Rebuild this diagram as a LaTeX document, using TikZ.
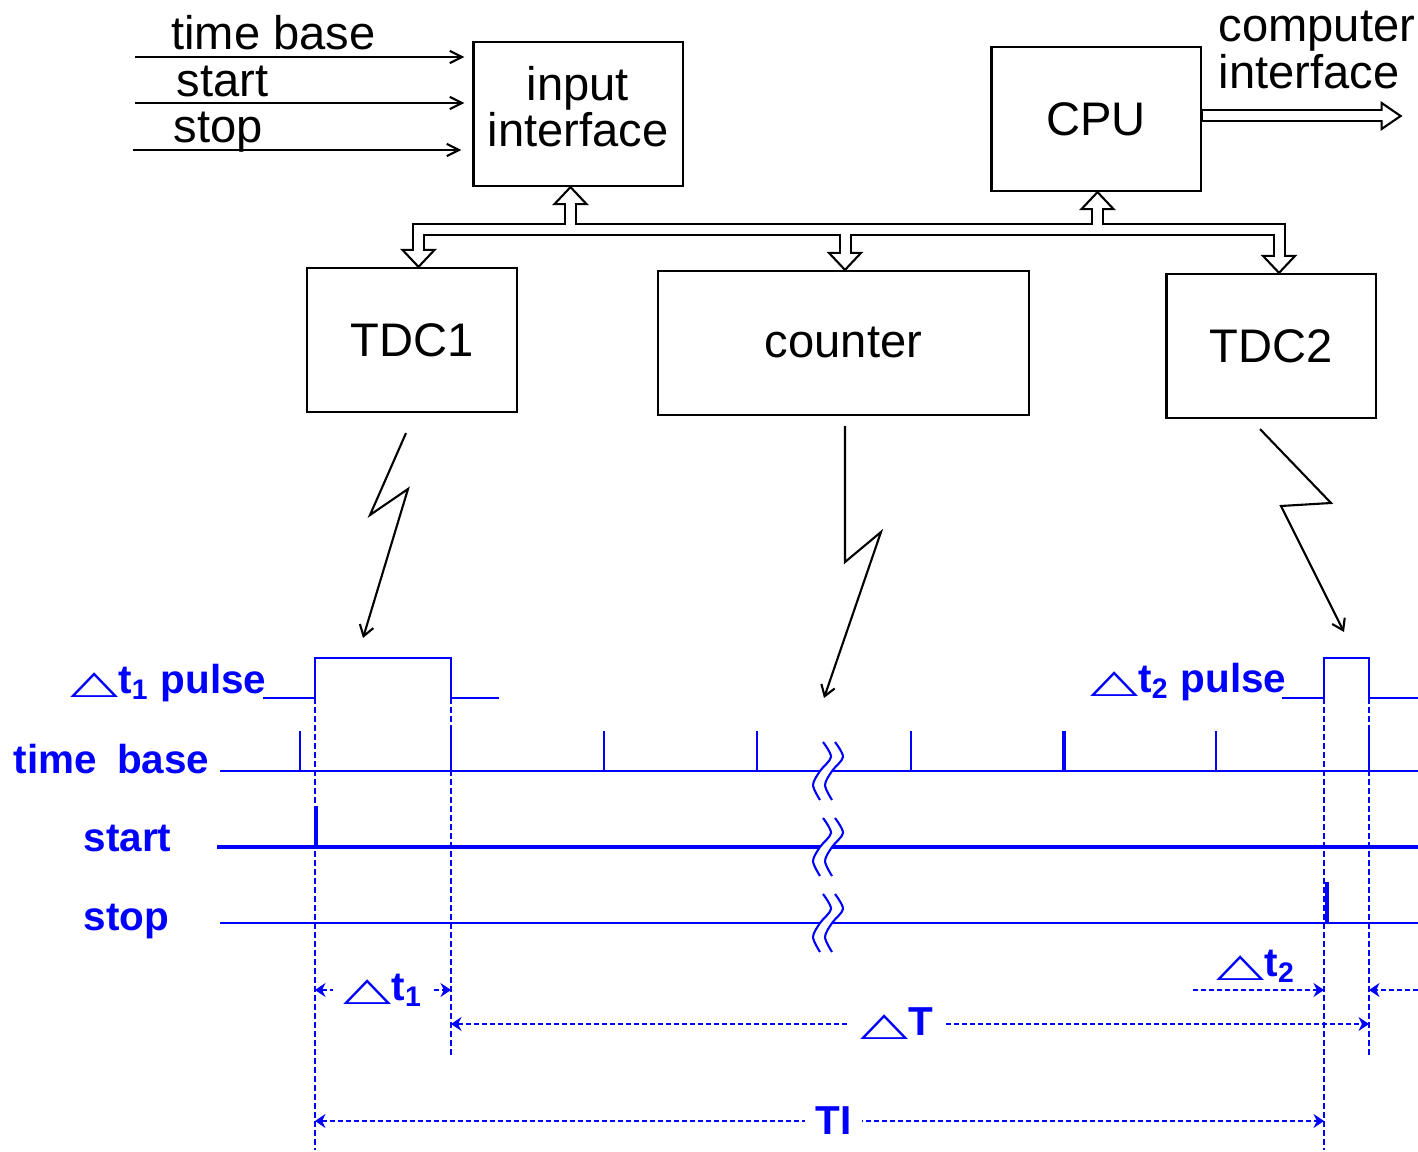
\documentclass[tikz,border=0pt]{standalone}
\usepackage{fontspec}
\setmainfont{Liberation Sans}
\newfontfamily\symfont{DejaVu Sans}
\usepackage{graphicx}
\usetikzlibrary{calc,arrows.meta}

\definecolor{sigblue}{RGB}{0,0,255}
\newcommand{\blk}{\fontsize{13.4}{13.1}\selectfont}
\newcommand{\sig}{\fontsize{11.5}{12}\selectfont\bfseries}
\newcommand{\dlt}{{\symfont\scalebox{1.55}[0.8]{△}}}

\tikzset{
  block/.style={draw, line width=0.6pt, minimum width=2.09cm, minimum height=1.44cm, align=center, font=\blk},
  inarrow/.style={line width=0.6pt, -{Straight Barb[length=3.5pt,width=3.5pt]}},
  busout/.style={line width=0.13cm, black, line join=miter},
  busin/.style={line width=0.09cm, white, line join=miter},
  bushead/.style={draw=black, fill=white, line width=0.6pt, line join=miter},
  bolt/.style={line width=0.6pt, -{Straight Barb[length=3pt,width=4pt]}},
  trace/.style={sigblue, line width=0.6pt},
  marker/.style={sigblue, line width=0.6pt, dash pattern=on 0.06cm off 0.03cm},
  dim/.style={sigblue, line width=0.6pt, dash pattern=on 0.05cm off 0.03cm, >={Stealth[length=3pt,width=4pt]}},
  siglabel/.style={text=sigblue, font=\sig, inner sep=0pt},
}

\begin{document}
\begin{tikzpicture}[x=0.01cm, y=-0.01cm]
\useasboundingbox (0,0) rectangle (1418,1152);

% blocks
\node[block] (inif) at (578,114) {input\\interface\rule[-4.5pt]{0pt}{4.5pt}};
\node[block] (cpu) at (1096,119) {CPU};
\node[block] (tdc1) at (412,340) {TDC1};
\node[block, minimum width=3.71cm] (counter) at (843.5,343) {counter};
\node[block] (tdc2) at (1271,346) {TDC2};

% inputs
\draw[inarrow] ($(inif.west)+(-337,-57)$) -- ($(inif.west)+(-8,-57)$);
\node[font=\blk, anchor=base] (tbin) at ($(inif.west)+(-199,-64)$) {time base};

\draw[inarrow] ($(inif.west)+(-337,-11)$) -- ($(inif.west)+(-8,-11)$);
\node[font=\blk, anchor=base] (stin) at ($(inif.west)+(-250,-17)$) {start};

\draw[inarrow] ($(inif.west)+(-339,36)$) -- ($(inif.west)+(-11,36)$);
\node[font=\blk, anchor=base] (spin) at ($(inif.west)+(-254,29)$) {stop};

% computer interface
\coordinate (cie) at ($(cpu.east)+(199,-3)$);
\draw[busout] ($(cpu.east)+(0,-3)$) -- ($(cie)+(-19,0)$);
\draw[bushead] (cie) -- ++(-19,-13) -- ++(0,26) -- cycle;
\draw[busin] ($(cpu.east)+(1,-3)$) -- ($(cie)+(-17.5,0)$);
\node[font=\blk, align=left, anchor=west, inner sep=0pt] (cilbl) at (1218,50) {computer\\interface};

% bus
\coordinate (bus) at (0,229.5);
\coordinate (d1) at ($(tdc1.north)+(6.5,0)$);
\coordinate (d2) at ($(counter.north)+(1.5,0)$);
\coordinate (d3) at ($(tdc2.north)+(8,0)$);
\coordinate (u1) at ($(inif.south)+(-7.5,0)$);
\coordinate (u2) at ($(cpu.south)+(1.5,0)$);

\draw[busout] ($(d1)+(0,-17)$) -- (d1 |- bus) -- (d3 |- bus) -- ($(d3)+(0,-17)$);
\draw[busout] (d2 |- bus) -- ($(d2)+(0,-17)$);
\draw[busout] (u1 |- bus) -- ($(u1)+(0,17)$);
\draw[busout] (u2 |- bus) -- ($(u2)+(0,17)$);

\draw[bushead] (d1) -- ++(-16,-17) -- ++(32,0) -- cycle;
\draw[bushead] (d2) -- ++(-16,-17) -- ++(32,0) -- cycle;
\draw[bushead] (d3) -- ++(-16,-17) -- ++(32,0) -- cycle;
\draw[bushead] (u1) -- ++(-16,17) -- ++(32,0) -- cycle;
\draw[bushead] (u2) -- ++(-16,17) -- ++(32,0) -- cycle;

\draw[busin] ($(d1)+(0,-15.5)$) -- (d1 |- bus) -- (d3 |- bus) -- ($(d3)+(0,-15.5)$);
\draw[busin] (d2 |- bus) -- ($(d2)+(0,-15.5)$);
\draw[busin] (u1 |- bus) -- ($(u1)+(0,15.5)$);
\draw[busin] (u2 |- bus) -- ($(u2)+(0,15.5)$);

% edge points of the pulses
\coordinate (r1) at (315,698);
\coordinate (f1) at (451,698);
\coordinate (r2) at (1324,698);
\coordinate (f2) at (1369,698);

% bolts down to the timing
\draw[bolt] ($(tdc1.south)+(-6,20)$) -- (370,515) -- (408,489) -- ($(r1)+(48,-60)$);
\draw[bolt] ($(counter.south)+(1.5,10)$) -- (845,562) -- (881,532) -- (824,698);
\draw[bolt] ($(tdc2.south)+(-11,10)$) -- (1331,503) -- (1281,506) -- ($(r2)+(20,-66)$);

% pulses
\draw[trace] (263,698) -- (r1) -- ++(0,-40) -| (f1) -- (499,698);
\draw[trace] (1282,698) -- (r2) -- ++(0,-40) -| (f2) -- (1418,698);

% time base
\draw[trace] (220,771) -- (1418,771);
\foreach \xt in {300,451,604,757,911,1216,1369}
  \draw[trace] (\xt,771) -- (\xt,731);
\draw[trace, line width=1.1pt] (1064,771) -- (1064,731);

% start
\draw[trace, line width=1.1pt] (217,847) -- (1418,847);
\draw[trace, line width=1.1pt] (316,847) -- (316,806);

% stop
\draw[trace] (220,923) -- (1418,923);
\draw[trace, line width=1.3pt] (1327,923) -- (1327,882);

% breaks
\foreach \yy in {771,847,923}{
  \begin{scope}[shift={(826,\yy)}]
    \fill[white] (-6,-3) rectangle (6,3);
    \draw[trace] plot[smooth] coordinates {(-3,-29) (5,-14) (-6,0) (-13,14) (-6,29)};
    \draw[trace] plot[smooth] coordinates {(9,-29) (17,-14) (6,0) (-1,14) (6,29)};
  \end{scope}
}

% labels
\node[siglabel, anchor=base east] (lblp1) at ($(r1)+(-48,-5)$) {\dlt t\textsubscript{1} pulse};
\node[siglabel, anchor=base east] (lbltb) at (210,773) {time\hspace{0.5em}base};
\node[siglabel, anchor=base west] (lblst) at (83,851) {start};
\node[siglabel, anchor=base west] (lblsp) at (83,930) {stop};
\node[siglabel, anchor=base east] (lblp2) at ($(r2)+(-37,-6)$) {\dlt t\textsubscript{2} pulse};

% markers
\draw[marker] (r1) -- ++(0,452);
\draw[marker] (f1) -- ++(0,360);
\draw[marker] (r2) -- ++(0,452);
\draw[marker] (f2) -- ++(0,360);

% intervals
\draw[dim, <->] ($(r1)+(0,292)$) -- ($(f1)+(0,292)$)
  node[midway, siglabel, fill=white, inner xsep=3pt, inner ysep=1pt] (lbldt1) {\dlt t\textsubscript{1}};
\draw[dim, <->] ($(f1)+(0,326)$) -- ($(f2)+(0,326)$)
  node[pos=0.486, siglabel, fill=white, inner xsep=3pt, inner ysep=1pt] (lbldT) {\dlt T};
\draw[dim, <->] ($(r1)+(0,423)$) -- ($(r2)+(0,423)$)
  node[pos=0.514, siglabel, fill=white, inner xsep=3pt, inner ysep=1pt] (lblTI) {TI};
\draw[dim, ->] ($(r2)+(-131,292)$) -- ($(r2)+(0,292)$);
\draw[dim, ->] ($(f2)+(49,292)$) -- ($(f2)+(0,292)$);
\node[siglabel] (lbldt2) at (1256,966) {\dlt t\textsubscript{2}};

\end{tikzpicture}
\end{document}
